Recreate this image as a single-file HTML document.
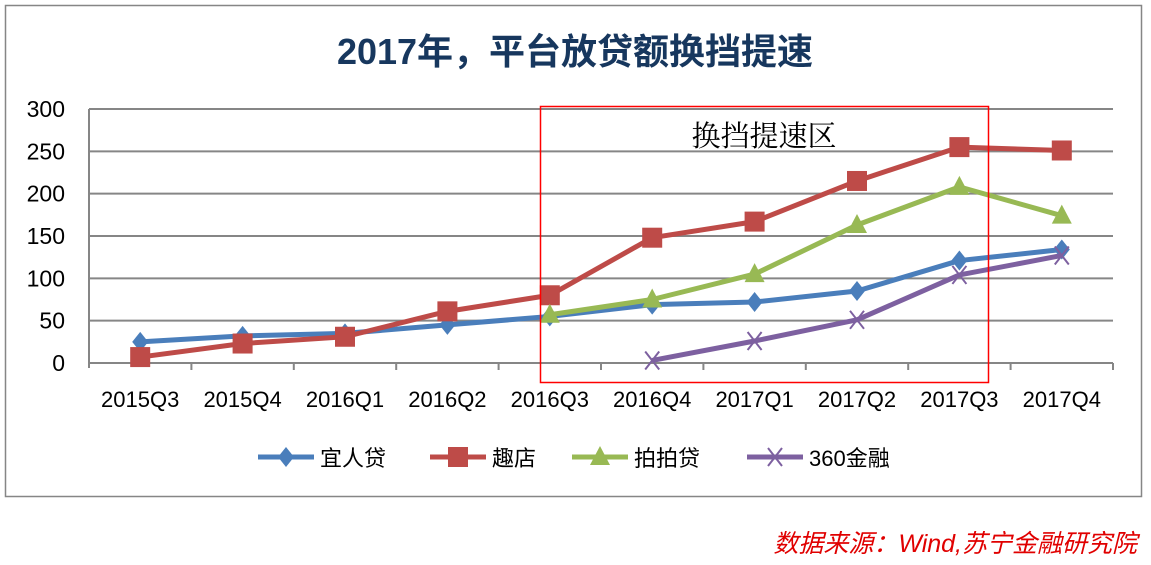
<!DOCTYPE html>
<html><head><meta charset="utf-8"><style>
body{margin:0;background:#fff;width:1151px;height:560px;overflow:hidden;font-family:"Liberation Sans","Noto Sans CJK SC",sans-serif}
</style></head><body>
<svg width="1151" height="560" font-family="Liberation Sans, Noto Sans CJK SC, sans-serif">
<rect x="5.5" y="5.5" width="1136" height="491" fill="#fff" stroke="#868686" stroke-width="1.5"/>
<text x="575" y="64" text-anchor="middle" font-size="36" font-weight="bold" fill="#17375e">2017年，平台放贷额换挡提速</text>
<g id="grid"></g><g id="series"></g>
<rect x="540.5" y="106.5" width="448" height="276" fill="none" stroke="#ff0000" stroke-width="1.5"/>
<text x="764" y="146" text-anchor="middle" font-size="29" font-family="Liberation Serif, Noto Serif CJK SC, serif">换挡提速区</text>
<g id="legend"></g>
<text x="1137" y="552" text-anchor="end" font-size="25" font-style="italic" fill="#e00000">数据来源：Wind,苏宁金融研究院</text>
</svg>
<script>
const categories=["2015Q3","2015Q4","2016Q1","2016Q2","2016Q3","2016Q4","2017Q1","2017Q2","2017Q3","2017Q4"];
const yTicks=[0,50,100,150,200,250,300];
const yirendai=[25,32,35,45,55,69,72,85,121,134];
const qudian=[7,23,31,61,80,148,167,215,255,251];
const ppdai=[null,null,null,null,57,75,105,163,208,174];
const jr360=[null,null,null,null,null,3,26,51,104,127];
const names=["宜人贷","趣店","拍拍贷","360金融"];
const NS="http://www.w3.org/2000/svg";
const L=89,R=1113,T=109,B=363;
const step=(R-L)/categories.length;
const xs=i=>L+step*(i+0.5);
const ys=v=>B-(v/300)*(B-T);
function mk(tag,attrs,parent){const e=document.createElementNS(NS,tag);for(const k in attrs)e.setAttribute(k,attrs[k]);parent.appendChild(e);return e;}
const grid=document.getElementById('grid');
yTicks.forEach(t=>{
 const l=mk('line',{x1:L,x2:R,y1:ys(t),y2:ys(t),stroke:'#868686','stroke-width':2},grid);
 
 
 const tx=mk('text',{x:L-24,y:ys(t)+8,'text-anchor':'end','font-size':23},grid);tx.textContent=t;
 
 
});
mk('line',{x1:L,x2:L,y1:T,y2:B+5,stroke:'#868686','stroke-width':2},grid);
categories.forEach((c,i)=>{
 mk('line',{x1:L+step*(i+1),x2:L+step*(i+1),y1:B,y2:B+7,stroke:'#868686','stroke-width':2},grid);
 const tx=mk('text',{x:xs(i),y:407,'text-anchor':'middle','font-size':22},grid);tx.textContent=c;
 
 
});
const cols=["#4a7ebb","#be4b48","#98b954","#7d60a0"];
function marker(type,x,y,col,g){
 if(type==0)mk('polygon',{points:`${x},${y-10} ${x+8},${y} ${x},${y+10} ${x-8},${y}`,fill:col},g);
 else if(type==1)mk('rect',{x:x-10,y:y-10,width:20,height:20,fill:col},g);
 else if(type==2)mk('polygon',{points:`${x},${y-11} ${x+10},${y+8} ${x-10},${y+8}`,fill:col},g);
 else{mk('path',{d:`M${x-7},${y-9}L${x+7},${y+9}M${x+7},${y-9}L${x-7},${y+9}`,stroke:col,'stroke-width':2},g);}
}
const sg=document.getElementById('series');
[yirendai,qudian,ppdai,jr360].forEach((d,s)=>{
 const g=mk('g',{},sg);
 
 
 const pts=d.map((v,i)=>v==null?null:[xs(i),ys(v)]).filter(p=>p);
 mk('polyline',{points:pts.map(p=>p.join(',')).join(' '),fill:'none',stroke:cols[s],'stroke-width':5,'stroke-linejoin':'round'},g);
 pts.forEach(p=>marker(s,p[0],p[1],cols[s],g));
});
const lg=document.getElementById('legend');
const lx=[258,430,572,747];
names.forEach((n,s)=>{
 const g=mk('g',{},lg);
 
 
 mk('line',{x1:lx[s],x2:lx[s]+56,y1:457,y2:457,stroke:cols[s],'stroke-width':5},g);
 marker(s,lx[s]+28,457,cols[s],g);
 const t=mk('text',{x:lx[s]+62,y:466,'font-size':22},g);t.textContent=n;
});
</script>
</body></html>
